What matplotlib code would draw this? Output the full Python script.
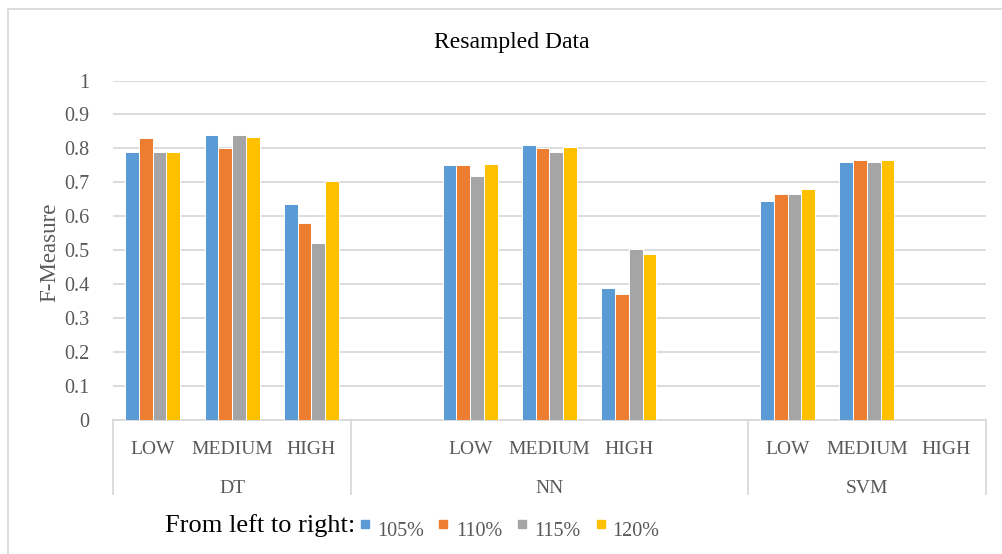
import numpy as np
import matplotlib
matplotlib.use("Agg")
import matplotlib.pyplot as plt
from matplotlib.patches import Rectangle
from matplotlib.lines import Line2D

# ---- data -------------------------------------------------------------
models = ["DT", "NN", "SVM"]
levels = ["LOW", "MEDIUM", "HIGH"]
series_names = ["105%", "110%", "115%", "120%"]
series_colors = ["#5B9BD5", "#ED7D31", "#A5A5A5", "#FFC000"]

# values ordered DT(LOW, MEDIUM, HIGH), NN(...), SVM(...)
f105 = [0.79, 0.84, 0.635, 0.75, 0.81, 0.39, 0.645, 0.76, np.nan]
f110 = [0.83, 0.80, 0.58, 0.75, 0.80, 0.37, 0.665, 0.765, np.nan]
f115 = [0.79, 0.84, 0.52, 0.72, 0.79, 0.505, 0.665, 0.76, np.nan]
f120 = [0.79, 0.835, 0.705, 0.755, 0.805, 0.49, 0.68, 0.765, np.nan]
series_values = [f105, f110, f115, f120]

yticks = [0, 0.1, 0.2, 0.3, 0.4, 0.5, 0.6, 0.7, 0.8, 0.9, 1]
ytick_labels = ["0", "0.1", "0.2", "0.3", "0.4", "0.5", "0.6", "0.7", "0.8", "0.9", "1"]

# empty category slots on each side of a model group
group_pad = [0, 1, 0]

# ---- layout helpers ---------------------------------------------------
W, H = 1003, 554
SERIF = ["Liberation Serif", "DejaVu Serif"]
TXT = "#595959"
GRID = "#D9D9D9"


def fx(x):
    return x / W


def fy(y):
    return 1 - y / H


# category slot positions per model
positions = []
spans = []
cursor = 0
for pad in group_pad:
    start = cursor
    cursor += pad
    for _ in levels:
        positions.append(cursor)
        cursor += 1
    cursor += pad
    spans.append((start - 0.5, cursor - 0.5))
positions = np.array(positions, dtype=float)
n_slots = cursor

fig = plt.figure(figsize=(W / 100, H / 100), dpi=100)
ax = fig.add_axes([fx(113), fy(420), (986 - 113) / W, (420 - 80.5) / H])

bar_w = 0.173
for i, (vals, col) in enumerate(zip(series_values, series_colors)):
    ax.bar(positions + (i - 1.5) * bar_w, vals, width=bar_w, color=col,
           edgecolor="white", linewidth=0.7, zorder=3)

ax.set_xlim(-0.5, n_slots - 0.5)
ax.set_ylim(0, 1)
ax.set_yticks(yticks)
ax.set_yticklabels(ytick_labels, family=SERIF, fontsize=14.5, color=TXT)
ax.tick_params(axis="y", length=0, pad=17)
ax.set_xticks([])
ax.grid(axis="y", color=GRID, linewidth=1.3, zorder=0)
for s in ["left", "right", "top"]:
    ax.spines[s].set_visible(False)
ax.spines["bottom"].set_color(GRID)
ax.spines["bottom"].set_linewidth(1.3)

# y-axis title
fig.text(fx(50), fy(252.5), "F-Measure", rotation=90, ha="center", va="center",
         family=SERIF, fontsize=16.5, color=TXT)

# two-level category axis
span_px = 420 - 80.5
trans = ax.get_xaxis_transform()
sep_bottom = -(494 - 420) / span_px
lvl_y = -(450 - 420) / span_px
grp_y = -(488.5 - 420) / span_px
edges = sorted(set([e for sp in spans for e in sp]))
for e in edges:
    ax.add_line(Line2D([e, e], [0, sep_bottom], transform=trans, color=GRID,
                       linewidth=1.3, clip_on=False))
for k, p in enumerate(positions):
    ax.text(p, lvl_y, levels[k % len(levels)], transform=trans, ha="center",
            va="center", family=SERIF, fontsize=14, color=TXT)
for m, (a, b) in zip(models, spans):
    ax.text((a + b) / 2, grp_y, m, transform=trans, ha="center", va="center",
            family=SERIF, fontsize=14, color=TXT)

# title
fig.text(fx(512), fy(42.5), "Resampled Data", ha="center", va="center",
         family=SERIF, fontsize=17, color="black")

# legend row
fig.text(fx(165), fy(531.7), "From left to right:", ha="left", va="baseline",
         family=SERIF, fontsize=19, color="black")
sq_x = [360.7, 438.5, 518.5, 596.7]
lab_x = [377.5, 456, 534, 612.5]
for name, col, sx, lx in zip(series_names, series_colors, sq_x, lab_x):
    fig.patches.append(Rectangle((fx(sx), fy(528.3)), 8 / W, 8.3 / H,
                                 transform=fig.transFigure, color=col))
    fig.text(fx(lx), fy(535.7), name, ha="left", va="baseline",
             family=SERIF, fontsize=14.5, color=TXT)

# chart frame
fig.patches.append(Rectangle((fx(8.5), -0.1), 1.2, fy(9) + 0.1,
                             transform=fig.transFigure, fill=False,
                             edgecolor=GRID, linewidth=1.3))

fig.savefig("out.png", dpi=100)
